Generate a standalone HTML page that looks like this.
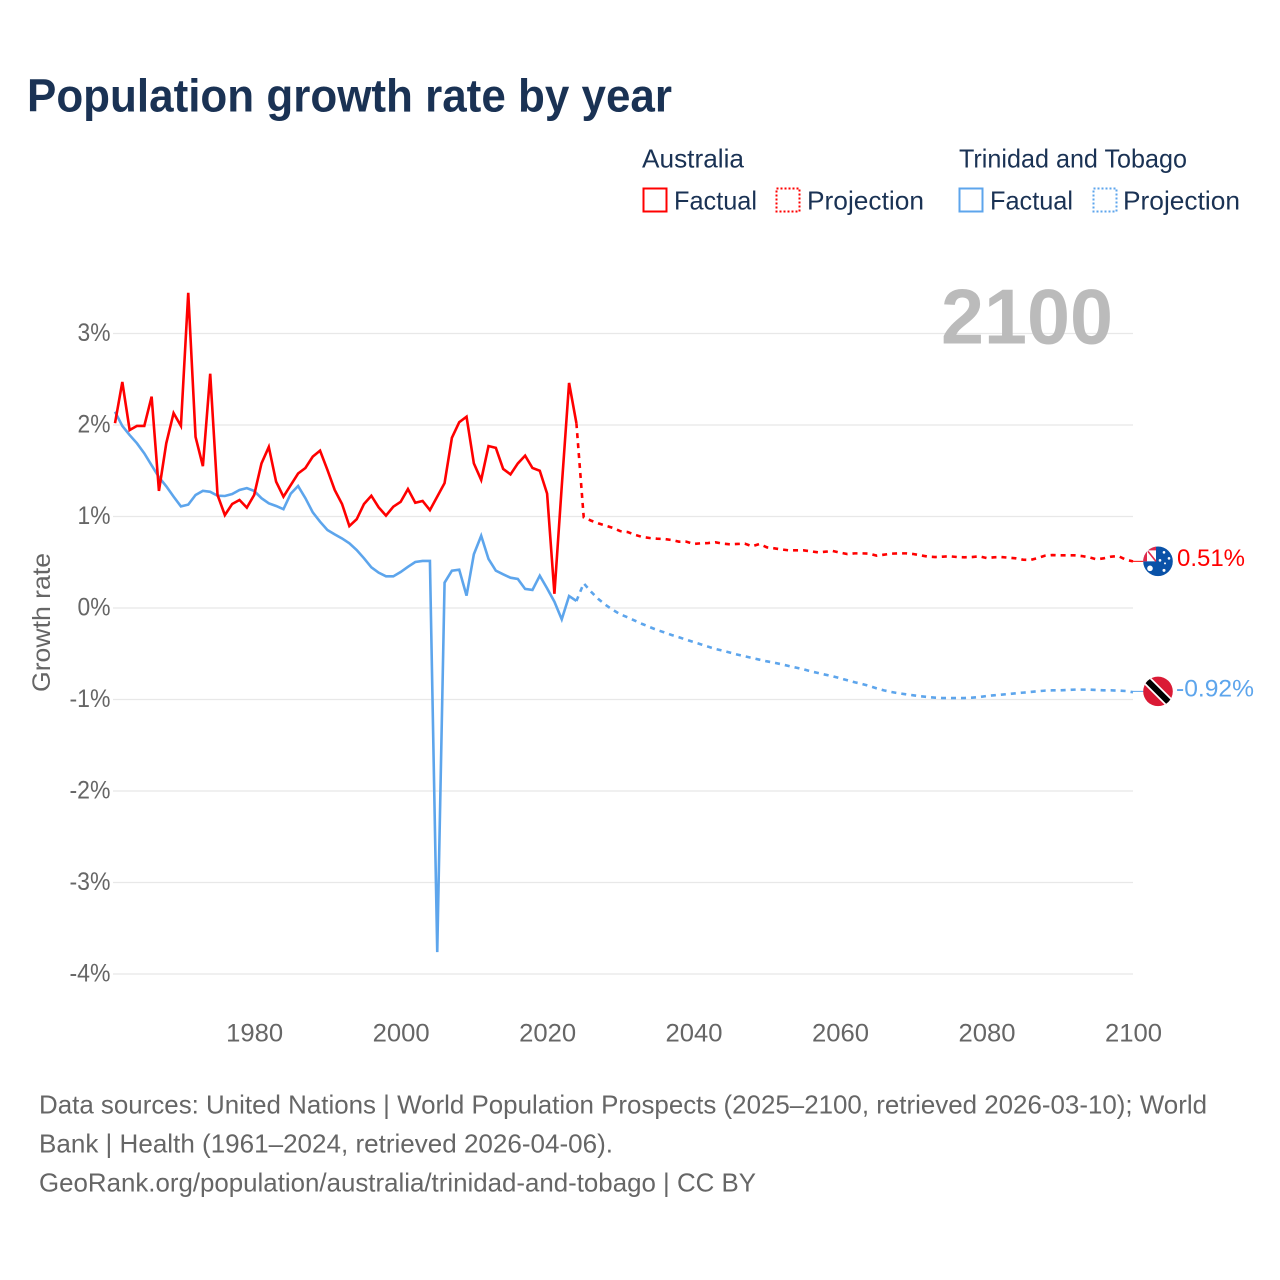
<!DOCTYPE html>
<html lang="en">
<head>
<meta charset="utf-8">
<title>Population growth rate by year</title>
<style>
html,body{margin:0;padding:0;background:#fff;width:1280px;height:1280px;overflow:hidden}
svg{display:block}
text{font-family:"Liberation Sans",sans-serif}
</style>
</head>
<body>
<svg id="chart" xmlns="http://www.w3.org/2000/svg" width="1280" height="1280" viewBox="0 0 1280 1280">
  <defs>
    <clipPath id="flag-clip"><circle cx="0" cy="0" r="14.8"/></clipPath>
  </defs>
  <rect x="0" y="0" width="1280" height="1280" fill="#fff"/>
  <text x="27" y="111.5" font-size="46" font-weight="700" fill="#1a3254" textLength="645" lengthAdjust="spacingAndGlyphs">Population growth rate by year</text>

  <g font-size="26" fill="#1a3254">
    <text x="642" y="167.5" textLength="102" lengthAdjust="spacingAndGlyphs">Australia</text>
    <text x="959" y="167.5" textLength="228" lengthAdjust="spacingAndGlyphs">Trinidad and Tobago</text>
    <g>
      <rect x="643.5" y="188.5" width="23" height="23" fill="none" stroke="#ff0000" stroke-width="2"/>
      <text x="674" y="209.5" textLength="83" lengthAdjust="spacingAndGlyphs">Factual</text>
    </g>
    <g>
      <rect x="776.5" y="188.5" width="23" height="23" fill="none" stroke="#ff0000" stroke-width="2" stroke-dasharray="2 2"/>
      <text x="807" y="209.5" textLength="117" lengthAdjust="spacingAndGlyphs">Projection</text>
    </g>
    <g>
      <rect x="959.5" y="188.5" width="23" height="23" fill="none" stroke="#5da5ec" stroke-width="2"/>
      <text x="990" y="209.5" textLength="83" lengthAdjust="spacingAndGlyphs">Factual</text>
    </g>
    <g>
      <rect x="1093.5" y="188.5" width="23" height="23" fill="none" stroke="#5da5ec" stroke-width="2" stroke-dasharray="2 2"/>
      <text x="1123" y="209.5" textLength="117" lengthAdjust="spacingAndGlyphs">Projection</text>
    </g>
  </g>

  <g id="grid"></g>
  <g id="yticks" font-size="25" fill="#666"></g>
  <g id="xticks" font-size="25" fill="#666"></g>
  <text transform="translate(50,622.5) rotate(-90)" text-anchor="middle" font-size="25" fill="#666" textLength="139" lengthAdjust="spacingAndGlyphs">Growth rate</text>
  <text x="941" y="343.5" font-size="78" font-weight="700" fill="#bbbbbb" textLength="172" lengthAdjust="spacingAndGlyphs">2100</text>
  <g id="series"></g>

  <g id="flag-au">
    <g clip-path="url(#flag-clip)">
      <rect x="-15" y="-15" width="30" height="30" fill="#0a52a8"/>
      <rect x="-15" y="-15" width="13" height="15" fill="#fff"/>
      <path d="M-15,-15 H-2 V-11 H-11 V0 H-15 Z" fill="#e0284a"/>
      <path d="M-10,-10 L-2,0" stroke="#e0284a" stroke-width="1.6"/>
      <circle cx="-8" cy="7" r="2.8" fill="#fff"/>
      <circle cx="6" cy="-9" r="1.3" fill="#fff"/>
      <circle cx="11" cy="-3" r="1.3" fill="#fff"/>
      <circle cx="2" cy="-1" r="1.3" fill="#fff"/>
      <circle cx="7" cy="2" r="1" fill="#fff"/>
      <circle cx="6" cy="9" r="1.5" fill="#fff"/>
    </g>
  </g>
  <g id="flag-tt">
    <g clip-path="url(#flag-clip)">
      <rect x="-15" y="-15" width="30" height="30" fill="#da1a35"/>
      <path d="M-15,-15 L15,15" stroke="#fff" stroke-width="9.5"/>
      <path d="M-15,-15 L15,15" stroke="#000" stroke-width="6"/>
    </g>
  </g>
  <text id="label-au" x="1177" font-size="24.5" fill="#ff0000" textLength="68" lengthAdjust="spacingAndGlyphs">0.51%</text>
  <text id="label-tt" x="1176" font-size="24.5" fill="#5da5ec" textLength="78" lengthAdjust="spacingAndGlyphs">-0.92%</text>

  <g font-size="26" fill="#666">
    <text x="39" y="1113.5" textLength="1168" lengthAdjust="spacingAndGlyphs">Data sources: United Nations | World Population Prospects (2025–2100, retrieved 2026-03-10); World</text>
    <text x="39" y="1152.5" textLength="574" lengthAdjust="spacingAndGlyphs">Bank | Health (1961–2024, retrieved 2026-04-06).</text>
    <text x="39" y="1191.5" textLength="717" lengthAdjust="spacingAndGlyphs">GeoRank.org/population/australia/trinidad-and-tobago | CC BY</text>
  </g>
</svg>
<script>
const factualStartYear = 1961;
const projectionStartYear = 2024;
const yTickValues = [3, 2, 1, 0, -1, -2, -3, -4];
const xTickYears = [1980, 2000, 2020, 2040, 2060, 2080, 2100];

const australiaFactual = [
  2.02, 2.47, 1.945, 1.99, 1.99, 2.31, 1.28, 1.80, 2.13, 1.99,
  3.445, 1.87, 1.55, 2.56, 1.235, 1.015, 1.137, 1.18, 1.097, 1.235,
  1.58, 1.76, 1.38, 1.216, 1.344, 1.47, 1.53, 1.654, 1.72, 1.51,
  1.29, 1.137, 0.896, 0.97, 1.137, 1.227, 1.10, 1.01, 1.107, 1.16,
  1.30, 1.15, 1.17, 1.07, 1.217, 1.365, 1.86, 2.03, 2.09, 1.58,
  1.40, 1.77, 1.75, 1.52, 1.46, 1.58, 1.665, 1.53, 1.50, 1.25,
  0.155, 1.33, 2.46, 2.02
];
const australiaProjection = [
  2.02, 0.99, 0.955, 0.925, 0.90, 0.875, 0.84, 0.83, 0.80, 0.776,
  0.765, 0.757, 0.754, 0.743, 0.725, 0.725, 0.70, 0.707, 0.71, 0.718,
  0.703, 0.696, 0.70, 0.703, 0.674, 0.70, 0.663, 0.652, 0.64, 0.63,
  0.63, 0.63, 0.62, 0.608, 0.615, 0.623, 0.605, 0.59, 0.597, 0.597,
  0.594, 0.572, 0.583, 0.594, 0.597, 0.597, 0.59, 0.576, 0.561, 0.557,
  0.561, 0.565, 0.557, 0.554, 0.557, 0.565, 0.546, 0.554, 0.557, 0.55,
  0.543, 0.528, 0.525, 0.546, 0.572, 0.579, 0.576, 0.576, 0.576, 0.568,
  0.554, 0.532, 0.543, 0.561, 0.568, 0.528, 0.51
];
const trinidadFactual = [
  2.145, 1.99, 1.89, 1.80, 1.69, 1.56, 1.43, 1.33, 1.217, 1.11,
  1.13, 1.235, 1.28, 1.27, 1.227, 1.224, 1.246, 1.29, 1.31, 1.28,
  1.20, 1.144, 1.115, 1.08, 1.25, 1.333, 1.20, 1.046, 0.943, 0.853,
  0.805, 0.76, 0.707, 0.634, 0.543, 0.445, 0.386, 0.346, 0.346, 0.393,
  0.45, 0.503, 0.514, 0.514, -3.76, 0.277, 0.408, 0.419, 0.135, 0.587,
  0.79, 0.536, 0.408, 0.368, 0.331, 0.317, 0.208, 0.197, 0.353, 0.215,
  0.069, -0.124, 0.131, 0.077
];
const trinidadProjection = [
  0.077, 0.27, 0.178, 0.098, 0.033, -0.022, -0.069, -0.102, -0.139, -0.175,
  -0.208, -0.24, -0.266, -0.295, -0.32, -0.346, -0.372, -0.397, -0.423, -0.448,
  -0.467, -0.488, -0.51, -0.528, -0.546, -0.565, -0.583, -0.598, -0.615, -0.634,
  -0.652, -0.67, -0.692, -0.71, -0.729, -0.746, -0.768, -0.79, -0.812, -0.83,
  -0.852, -0.878, -0.9, -0.918, -0.932, -0.943, -0.954, -0.965, -0.973, -0.98,
  -0.984, -0.984, -0.984, -0.984, -0.98, -0.973, -0.962, -0.954, -0.947, -0.94,
  -0.932, -0.925, -0.918, -0.91, -0.903, -0.9, -0.9, -0.896, -0.892, -0.892,
  -0.892, -0.896, -0.9, -0.9, -0.903, -0.907, -0.92
];

const SVGNS = 'http://www.w3.org/2000/svg';
function xScale(year) { return 115 + (year - 1961) * (1133 - 115) / 139; }
function yScale(value) { return 608 - value * 91.5; }
function make(tag, attrs, parent) {
  const el = document.createElementNS(SVGNS, tag);
  for (const k in attrs) el.setAttribute(k, attrs[k]);
  parent.appendChild(el);
  return el;
}
function pathFrom(values, startYear) {
  return values.map((v, i) => (i ? 'L' : 'M') + xScale(startYear + i).toFixed(2) + ',' + yScale(v).toFixed(2)).join(' ');
}

const grid = document.getElementById('grid');
const yTicksGroup = document.getElementById('yticks');
yTickValues.forEach(v => {
  const line = make('line', {x1: 113, x2: 1133, y1: yScale(v), y2: yScale(v), stroke: '#e8e8e8', 'stroke-width': 1.3}, grid);
  
  
  const label = make('text', {x: 110.5, y: yScale(v) + 7.5, 'text-anchor': 'end', textLength: v < 0 ? 41 : 33, lengthAdjust: 'spacingAndGlyphs'}, yTicksGroup);
  label.textContent = v + '%';
  
  
});
const xTicksGroup = document.getElementById('xticks');
xTickYears.forEach(y => {
  const label = make('text', {x: xScale(y) + 0.5, y: 1041.5, 'text-anchor': 'middle', textLength: 57, lengthAdjust: 'spacingAndGlyphs'}, xTicksGroup);
  label.textContent = y;
  
  
});

const seriesGroup = document.getElementById('series');
const RED = '#ff0000', BLUE = '#5da5ec';
const lineAuProj = make('path', {d: pathFrom(australiaProjection, projectionStartYear), fill: 'none', stroke: RED, 'stroke-width': 2.6, 'stroke-dasharray': '5 5'}, seriesGroup);


const lineTtProj = make('path', {d: pathFrom(trinidadProjection, projectionStartYear), fill: 'none', stroke: BLUE, 'stroke-width': 2.6, 'stroke-dasharray': '5 5'}, seriesGroup);


const lineTt = make('path', {d: pathFrom(trinidadFactual, factualStartYear), fill: 'none', stroke: BLUE, 'stroke-width': 2.6, 'stroke-linejoin': 'miter'}, seriesGroup);


const lineAu = make('path', {d: pathFrom(australiaFactual, factualStartYear), fill: 'none', stroke: RED, 'stroke-width': 2.6, 'stroke-linejoin': 'miter'}, seriesGroup);



const auEnd = yScale(australiaProjection[australiaProjection.length - 1]);
const ttEnd = yScale(trinidadProjection[trinidadProjection.length - 1]) - 0.8;
const connAu = make('line', {x1: 1133, x2: 1144, y1: auEnd, y2: auEnd, stroke: RED, 'stroke-width': 1}, seriesGroup);


const connTt = make('line', {x1: 1133, x2: 1144, y1: ttEnd, y2: ttEnd, stroke: BLUE, 'stroke-width': 1}, seriesGroup);


document.getElementById('flag-au').setAttribute('transform', 'translate(1158,' + auEnd + ')');
document.getElementById('flag-tt').setAttribute('transform', 'translate(1158,' + ttEnd + ')');
document.getElementById('label-au').setAttribute('y', auEnd + 4.5);
document.getElementById('label-tt').setAttribute('y', ttEnd + 5);
</script>
</body>
</html>
